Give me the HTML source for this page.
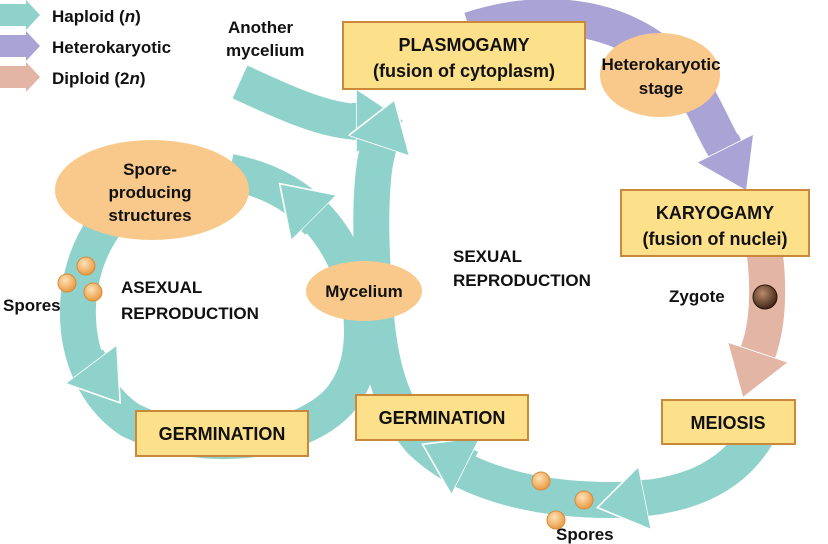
<!DOCTYPE html>
<html><head><meta charset="utf-8"><style>
html,body{margin:0;padding:0;background:#fff;width:828px;height:544px;overflow:hidden}
text{font-family:"Liberation Sans",Arial,sans-serif;font-weight:bold;fill:#111}
</style></head><body>
<svg width="828" height="544" viewBox="0 0 828 544" xmlns="http://www.w3.org/2000/svg">
<defs>
<marker id="mt" viewBox="0 0 2 2" refX="0" refY="1" markerWidth="1.8" markerHeight="1.8" orient="auto" markerUnits="strokeWidth"><path d="M0,0 L1.5,1 L0,2 z" fill="#8fd2cc" stroke="#fff" stroke-width="0.05"/></marker>
<marker id="mp" viewBox="0 0 2 2" refX="0" refY="1" markerWidth="1.8" markerHeight="1.8" orient="auto" markerUnits="strokeWidth"><path d="M0,0 L1.5,1 L0,2 z" fill="#aaa4d6" stroke="#fff" stroke-width="0.05"/></marker>
<marker id="mk" viewBox="0 0 2 2" refX="0" refY="1" markerWidth="1.8" markerHeight="1.8" orient="auto" markerUnits="strokeWidth"><path d="M0,0 L1.5,1 L0,2 z" fill="#e3b5a5" stroke="#fff" stroke-width="0.05"/></marker>
<radialGradient id="sp" cx="0.4" cy="0.35" r="0.7"><stop offset="0" stop-color="#fde2b8"/><stop offset="1" stop-color="#e9963a"/></radialGradient>
<radialGradient id="zy" cx="0.4" cy="0.35" r="0.7"><stop offset="0" stop-color="#b98a6c"/><stop offset="1" stop-color="#3a1e10"/></radialGradient>
</defs>
<g fill="none" stroke-width="36">
<path d="M358,295 C340,230 300,185 230,172" stroke="#8fd2cc"/>
<path d="M105,225 C62,285 70,380 130,420 C200,455 300,445 340,400 C365,370 365,330 358,290" stroke="#8fd2cc"/>
<path d="M318,222 L314,218" stroke="#8fd2cc" marker-end="url(#mt)"/>
<path d="M88,360 L91,364" stroke="#8fd2cc" marker-end="url(#mt)"/>
<path d="M240,82 C280,100 320,120 358,122" stroke="#8fd2cc"/>
<path d="M352,121 L356,121" stroke="#8fd2cc" marker-end="url(#mt)"/>
<path d="M375,300 C368,220 372,170 378,150" stroke="#8fd2cc"/>
<path d="M377,152 L379,146" stroke="#8fd2cc" marker-end="url(#mt)"/>
<path d="M470,30 C560,0 660,20 705,110 C715,130 722,145 726,150" stroke="#aaa4d6"/>
<path d="M722,142 L725,148" stroke="#aaa4d6" marker-end="url(#mp)"/>
<path d="M765,255 C770,300 766,330 758,352" stroke="#e3b5a5"/>
<path d="M760,346 L758,352" stroke="#e3b5a5" marker-end="url(#mk)"/>
<path d="M765,420 C740,475 690,500 610,500 C530,500 460,480 420,440 C390,405 378,360 375,300" stroke="#8fd2cc"/>
<path d="M650,497 L645,498" stroke="#8fd2cc" marker-end="url(#mt)"/>
<path d="M470,468 L466,466" stroke="#8fd2cc" marker-end="url(#mt)"/>
</g>
<polygon points="0,4 26,4 26,0 40,15 26,30 26,26 0,26" fill="#8fd2cc"/>
<polygon points="0,35 26,35 26,31 40,46 26,61 26,57 0,57" fill="#aaa4d6"/>
<polygon points="0,66 26,66 26,62 40,77 26,92 26,88 0,88" fill="#e3b5a5"/>
<text x="52" y="22" font-size="17">Haploid (<tspan font-style="italic">n</tspan>)</text>
<text x="52" y="53" font-size="17">Heterokaryotic</text>
<text x="52" y="84" font-size="17">Diploid (2<tspan font-style="italic">n</tspan>)</text>
<text x="228" y="33" font-size="17">Another</text>
<text x="226" y="56" font-size="17">mycelium</text>
<g fill="#fde08a" stroke="#c9883a" stroke-width="2">
<rect x="343" y="22" width="242" height="67"/>
<rect x="621" y="190" width="188" height="66"/>
<rect x="662" y="400" width="133" height="44"/>
<rect x="356" y="395" width="172" height="45"/>
<rect x="136" y="411" width="172" height="45"/>
</g>
<g text-anchor="middle" font-size="18">
<text x="464" y="51">PLASMOGAMY</text>
<text x="464" y="77">(fusion of cytoplasm)</text>
<text x="715" y="219">KARYOGAMY</text>
<text x="715" y="245">(fusion of nuclei)</text>
<text x="728" y="429">MEIOSIS</text>
<text x="442" y="424">GERMINATION</text>
<text x="222" y="440">GERMINATION</text>
</g>
<g fill="#f8c98b">
<ellipse cx="660" cy="75" rx="60" ry="42"/>
<ellipse cx="364" cy="291" rx="58" ry="30"/>
<ellipse cx="152" cy="190" rx="97" ry="50"/>
</g>
<g text-anchor="middle" font-size="17">
<text x="661" y="70">Heterokaryotic</text>
<text x="661" y="94">stage</text>
<text x="364" y="297">Mycelium</text>
<text x="150" y="175">Spore-</text>
<text x="150" y="198">producing</text>
<text x="150" y="221">structures</text>
</g>
<text x="453" y="262" font-size="17">SEXUAL</text>
<text x="453" y="286" font-size="17">REPRODUCTION</text>
<text x="121" y="293" font-size="17">ASEXUAL</text>
<text x="121" y="319" font-size="17">REPRODUCTION</text>
<text x="3" y="311" font-size="17">Spores</text>
<text x="556" y="540" font-size="17">Spores</text>
<text x="669" y="302" font-size="17">Zygote</text>
<circle cx="765" cy="297" r="12" fill="url(#zy)" stroke="#2a1408"/>
<g fill="url(#sp)" stroke="#d98a36" stroke-width="1">
<circle cx="86" cy="266" r="9"/><circle cx="67" cy="283" r="9"/><circle cx="93" cy="292" r="9"/>
<circle cx="541" cy="481" r="9"/><circle cx="584" cy="500" r="9"/><circle cx="556" cy="520" r="9"/>
</g>
</svg>
</body></html>
